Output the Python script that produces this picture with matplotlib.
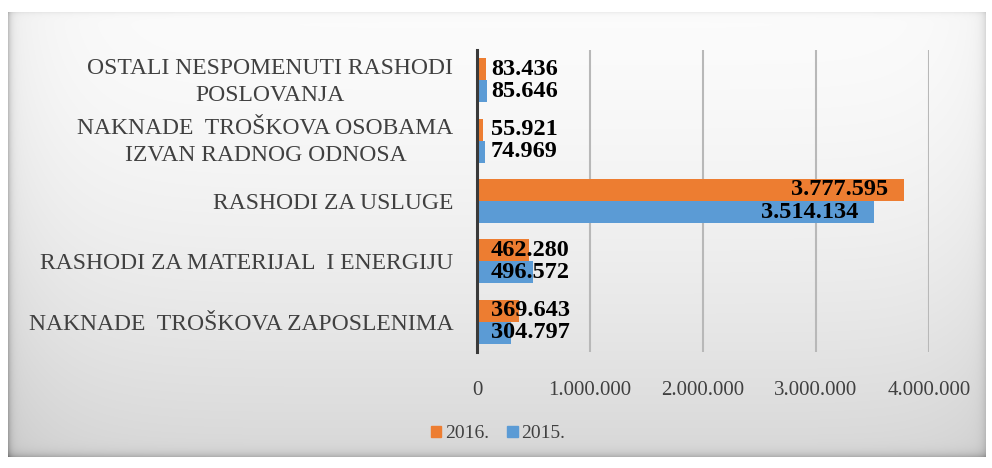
import numpy as np
import matplotlib
matplotlib.use("Agg")
import matplotlib.pyplot as plt
from matplotlib.patches import Patch
import matplotlib.transforms as mtransforms

categories = [
    "NAKNADE  TROŠKOVA ZAPOSLENIMA",
    "RASHODI ZA MATERIJAL  I ENERGIJU",
    "RASHODI ZA USLUGE",
    "NAKNADE  TROŠKOVA OSOBAMA\nIZVAN RADNOG ODNOSA",
    "OSTALI NESPOMENUTI RASHODI\nPOSLOVANJA",
]
values_2016 = [369643, 462280, 3777595, 55921, 83436]
values_2015 = [304797, 496572, 3514134, 74969, 85646]
labels_2016 = ["369.643", "462.280", "3.777.595", "55.921", "83.436"]
labels_2015 = ["304.797", "496.572", "3.514.134", "74.969", "85.646"]
xticks = [0, 1000000, 2000000, 3000000, 4000000]
xtick_labels = ["0", "1.000.000", "2.000.000", "3.000.000", "4.000.000"]
series_names = ["2016.", "2015."]

ORANGE = "#ED7D31"
BLUE = "#5B9BD5"
TXT = "#404040"
plt.rcParams["font.family"] = ["Liberation Serif", "DejaVu Serif"]

W, H = 992, 468
fig = plt.figure(figsize=(W / 100, H / 100), dpi=100)

# background frame with bevel/gradient
bg = fig.add_axes([0, 0, 1, 1], zorder=-10)
bg.set_axis_off()
yy, xx = np.mgrid[0:H, 0:W].astype(float)
x0, x1, y0, y1 = 8, 985, 12, 456
inside = (xx >= x0) & (xx <= x1) & (yy >= y0) & (yy <= y1)
vy = (yy - y0) / (y1 - y0)
base = 0.985 - 0.14 * np.clip(vy, 0, 1) ** 1.6
hx = (xx - x0) / (x1 - x0)
base -= 0.05 * np.exp(-hx / 0.05) + 0.03 * np.exp(-(1 - hx) / 0.04)
dl = xx - x0
dr = x1 - xx
dt = yy - y0
db = y1 - yy
base -= 0.18 * np.exp(-dl / 3.0)
base -= 0.10 * np.exp(-dr / 4.0)
base -= 0.05 * np.exp(-dt / 2.0)
base -= 0.15 * np.exp(-db / 4.0)
img = np.where(inside, np.clip(base, 0, 1), 1.0)
rgb = np.dstack([img, img, img])
bg.imshow(rgb, extent=[0, 1, 0, 1], aspect="auto", interpolation="bilinear")
bg.set_xlim(0, 1)
bg.set_ylim(0, 1)

ax = fig.add_axes([477 / W, 1 - 352 / H, (929 - 477) / W, (352 - 50) / H])
ax.patch.set_alpha(0)

y = np.arange(len(categories))
h = 0.365
b16 = ax.barh(y + h / 2, values_2016, height=h, color=ORANGE, label=series_names[0], zorder=3)
b15 = ax.barh(y - h / 2, values_2015, height=h, color=BLUE, label=series_names[1], zorder=3)

ax.set_xlim(0, 4000000)
ax.set_ylim(-0.5, len(categories) - 0.5)
ax.set_xticks(xticks)
ax.set_xticklabels(xtick_labels, fontsize=15, color=TXT)
ax.set_yticks(y)
ax.set_yticklabels(categories, fontsize=17, color=TXT,
                   multialignment="center", linespacing=1.4)
ax.tick_params(axis="both", length=0)
ax.tick_params(axis="y", pad=17)
ax.tick_params(axis="x", pad=21)
for lab in ax.get_yticklabels():
    if "\n" in lab.get_text():
        lab.set_transform(lab.get_transform() +
                          mtransforms.ScaledTranslation(0, 3 / 72, fig.dpi_scale_trans))
for s in ["top", "right", "bottom"]:
    ax.spines[s].set_visible(False)
ax.spines["left"].set_color("#3a3a3a")
ax.spines["left"].set_linewidth(2.2)
ax.spines["left"].set_zorder(5)
ax.xaxis.grid(True, color="#b8b8b8", linewidth=1.5, zorder=0)
ax.set_axisbelow(True)

def annotate(bars, labels):
    for rect, lab in zip(bars, labels):
        v = rect.get_width()
        yc = rect.get_y() + rect.get_height() / 2
        if v > 1000000:
            ax.annotate(lab, (v, yc), xytext=(-11, 0), textcoords="offset points",
                        ha="right", va="center", fontweight="bold",
                        fontsize=17.5, color="black", zorder=6)
        else:
            ax.annotate(lab, (0, yc), xytext=(10, 0), textcoords="offset points",
                        ha="left", va="center", fontweight="bold",
                        fontsize=17.5, color="black", zorder=6)

annotate(b16, labels_2016)
annotate(b15, labels_2015)

handles = [Patch(color=ORANGE, label=series_names[0]), Patch(color=BLUE, label=series_names[1])]
leg = fig.legend(handles=handles, loc="center", bbox_to_anchor=(498 / W, 1 - 434 / H),
                 ncol=2, frameon=False, handlelength=0.55, handleheight=0.55,
                 handletextpad=0.2, columnspacing=0.9,
                 prop={"size": 14})
for t in leg.get_texts():
    t.set_color(TXT)

fig.savefig("out.png", dpi=100)
